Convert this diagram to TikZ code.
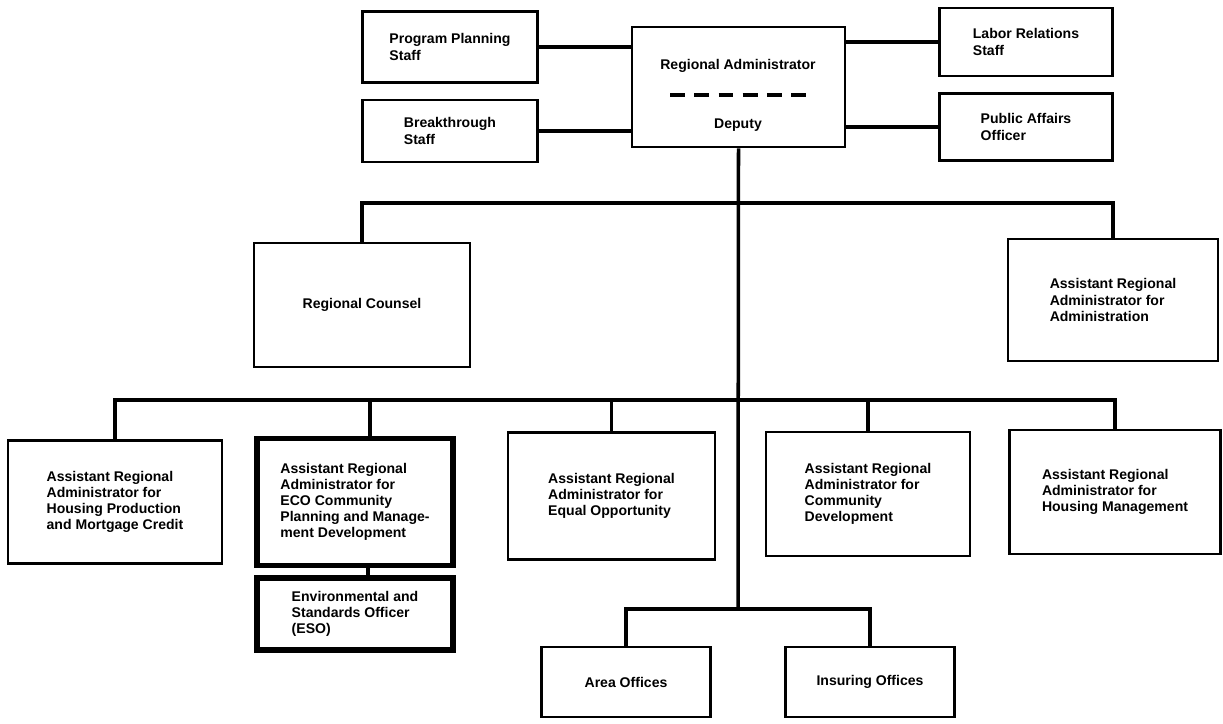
\documentclass[tikz,border=0pt]{standalone}
\usepackage{fontspec}
\setmainfont{Liberation Sans}
\usetikzlibrary{positioning, calc}

\begin{document}
\begin{tikzpicture}[
        x=0.02cm, y=-0.02cm,
        % Style des boîtes
        block/.style={
            rectangle,
            draw=black,
            line width=1.6pt,
            align=left,
            inner sep=0pt,
            font=\bfseries\fontsize{8}{9.2}\selectfont
        },
        % Boîtes en trait gras
        heavy/.style={block, line width=3.2pt},
        % Texte libre
        label/.style={inner sep=0pt, font=\bfseries\fontsize{8}{9.2}\selectfont},
        % Style des liaisons
        line/.style={draw=black, line width=2pt, line join=miter},
        divider/.style={draw=black, line width=1.8pt, dash pattern=on 8.5pt off 5.3pt}
    ]
    \useasboundingbox (0,0) rectangle (1223,723);

    % --- DIRECTION ---
    \node [block, minimum width=4.26cm, minimum height=2.4cm] (ra) at (738.5,87) {};
    \node [label] (ratitle) at (738,66) {Regional Administrator};
    \node [label] (radeputy) at (738,125) {Deputy};
    \draw [divider] (670,95) -- (807,95);

    % --- ÉTAT-MAJOR ---
    \node [block, minimum width=3.5cm, minimum height=1.42cm] (pps) at (450,47) {Program Planning\\Staff};
    \node [block, minimum width=3.5cm, minimum height=1.24cm] (bts) at (450,131) {Breakthrough\\Staff};
    \node [block, minimum width=3.46cm, minimum height=1.36cm] (lrs) at (1026,42) {Labor Relations\\Staff};
    \node [block, minimum width=3.46cm, minimum height=1.34cm] (pao) at (1026,127) {Public Affairs\\Officer};

    % --- NIVEAU 2 ---
    \node [block, minimum width=4.32cm, minimum height=2.48cm] (rc) at (362,305) {Regional Counsel};
    \node [block, minimum width=4.2cm, minimum height=2.44cm] (araa) at (1113,300) {Assistant Regional\\Administrator for\\Administration};

    % --- NIVEAU 3 ---
    \node [block, minimum width=4.28cm, minimum height=2.46cm] (hpmc) at (115,502) {Assistant Regional\\Administrator for\\Housing Production\\and Mortgage Credit};
    \node [heavy, minimum width=3.92cm, minimum height=2.54cm] (eco) at (355,502) {Assistant Regional\\Administrator for\\ECO Community\\Planning and Manage-\\ment Development};
    \node [heavy, minimum width=3.92cm, minimum height=1.44cm] (eso) at (355,614) {Environmental and\\Standards Officer\\(ESO)};
    \node [block, minimum width=4.14cm, minimum height=2.54cm] (eqo) at (611.5,496) {Assistant Regional\\Administrator for\\Equal Opportunity};
    \node [block, minimum width=4.08cm, minimum height=2.48cm] (cd) at (868,494) {Assistant Regional\\Administrator for\\Community\\Development};
    \node [block, minimum width=4.22cm, minimum height=2.48cm] (hm) at (1115,492) {Assistant Regional\\Administrator for\\Housing Management};

    % --- BUREAUX ---
    \node [block, minimum width=3.38cm, minimum height=1.4cm] (ao) at (626,682) {Area Offices};
    \node [block, minimum width=3.38cm, minimum height=1.4cm] (io) at (870,682) {Insuring Offices};

    % --- LIAISONS ---
    \coordinate (j2) at (738,203);
    \coordinate (j3) at (738,400);
    \coordinate (hub) at (738,609);

    \draw [line] (pps.east) -- (pps.east -| ra.west);
    \draw [line] (bts.east) -- (bts.east -| ra.west);
    \draw [line] (lrs.west -| ra.east) -- (lrs.west);
    \draw [line] (pao.west -| ra.east) -- (pao.west);
    \draw [line] (ra.south) -- (hub);

    \draw [line] (j2) -| (rc.north);
    \draw [line] (j2) -| (araa.north);

    \draw [line] (j3) -| (hpmc.north);
    \draw [line] (j3) -| ([xshift=0.3cm]eco.north);
    \draw [line] (j3) -| (eqo.north);
    \draw [line] (j3) -| (cd.north);
    \draw [line] (j3) -| (hm.north);
    \draw [line] ([xshift=0.26cm]eco.south) -- ([xshift=0.26cm]eso.north);

    \draw [line] (hub) -| (ao.north);
    \draw [line] (hub) -| (io.north);

\end{tikzpicture}
\end{document}
